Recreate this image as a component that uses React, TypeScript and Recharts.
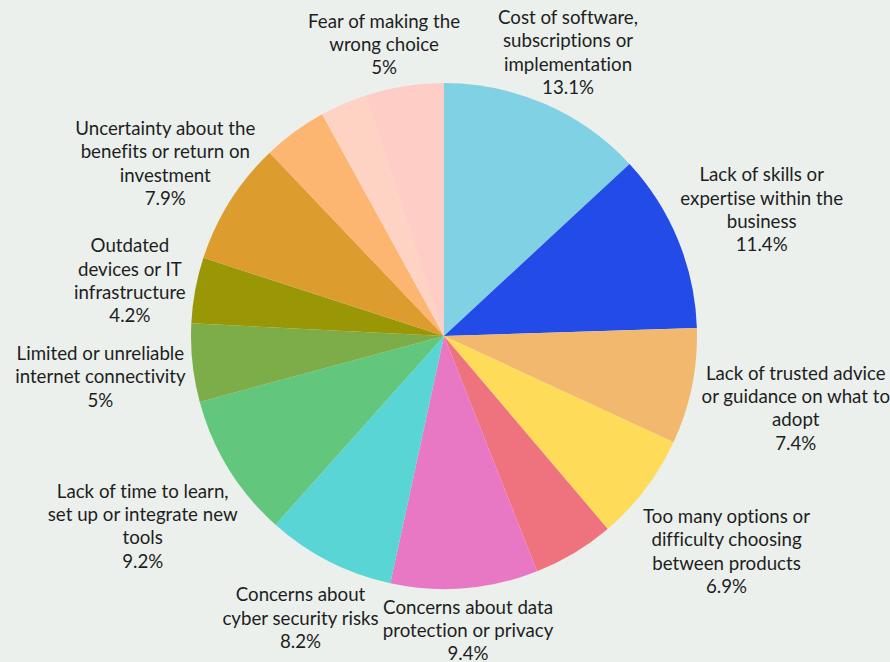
import React from "react";
import { PieChart, Pie, Cell } from "recharts";

const categories = [
  "Cost of software, subscriptions or implementation",
  "Lack of skills or expertise within the business",
  "Lack of trusted advice or guidance on what to adopt",
  "Too many options or difficulty choosing between products",
  "Other barrier",
  "Concerns about data protection or privacy",
  "Concerns about cyber security risks",
  "Lack of time to learn, set up or integrate new tools",
  "Limited or unreliable internet connectivity",
  "Outdated devices or IT infrastructure",
  "Uncertainty about the benefits or return on investment",
  "Other barrier (2)",
  "Other barrier (3)",
  "Fear of making the wrong choice",
];

const values = [13.1, 11.4, 7.4, 6.9, 5.2, 9.4, 8.2, 9.2, 5, 4.2, 7.9, 4.1, 3.0, 5];

const labelLines: string[][] = [
  ["Cost of software,", "subscriptions or", "implementation"],
  ["Lack of skills or", "expertise within the", "business"],
  ["Lack of trusted advice", "or guidance on what to", "adopt"],
  ["Too many options or", "difficulty choosing", "between products"],
  [],
  ["Concerns about data", "protection or privacy"],
  ["Concerns about", "cyber security risks"],
  ["Lack of time to learn,", "set up or integrate new", "tools"],
  ["Limited or unreliable", "internet connectivity"],
  ["Outdated", "devices or IT", "infrastructure"],
  ["Uncertainty about the", "benefits or return on", "investment"],
  [],
  [],
  ["Fear of making the", "wrong choice"],
];

const colors = [
  "#80d1e3",
  "#234be8",
  "#f2b86d",
  "#fedc5a",
  "#ef737e",
  "#e878c4",
  "#5ad5d5",
  "#62c77c",
  "#7cad48",
  "#9a9707",
  "#dc9c2e",
  "#fdb572",
  "#fed3c3",
  "#fecdc5",
];

// layout: distance of each label block centre from the pie centre, and angle nudges
const LABEL_DIST = [310, 342, 359, 355, 0, 295, 316, 356, 346, 319, 328, 0, 0, 298];
const LABEL_NUDGE = [0, -0.6, 0, 0, 0, 0, 0, 0.5, 0.6, 0.4, 0.4, 0, 0, 2.6];

const data = categories.map((name, i) => ({
  name,
  value: values[i],
}));

const RAD = Math.PI / 180;
const FONT_SIZE = 18.7;
const LINE_H = 23.3;

const renderLabel = (props: any) => {
  const { cx, cy, midAngle, index } = props;
  const lines = labelLines[index];
  if (!lines || lines.length === 0) return null;
  const all = [...lines, `${values[index]}%`];
  const h = all.length * LINE_H;
  const ang = (midAngle + LABEL_NUDGE[index]) * RAD;
  const d = LABEL_DIST[index];
  const bx = cx + d * Math.cos(-ang);
  const by = cy + d * Math.sin(-ang);
  const top = by - h / 2;
  return (
    <text
      key={`lbl-${index}`}
      textAnchor="middle"
      fill="#1e1e1e"
      fontSize={FONT_SIZE}
      fontFamily="Lato, sans-serif"
      style={{ fontVariantLigatures: "none", fontFeatureSettings: '"liga" 0, "clig" 0' }}
    >
      {all.map((l, i) => (
        <tspan key={i} x={bx} y={top + LINE_H * (i + 0.5)} dominantBaseline="central">
          {l}
        </tspan>
      ))}
    </text>
  );
};

export default function App() {
  return (
    <div style={{ width: 890, height: 662, background: "#ebf0ec" }}>
      <style>{`body{margin:0}`}</style>
      <PieChart width={890} height={662} margin={{ top: 0, right: 0, bottom: 0, left: 0 }}>
        <Pie
          data={data}
          dataKey="value"
          cx={444}
          cy={336}
          outerRadius={253}
          startAngle={90}
          endAngle={-270}
          stroke="none"
          label={renderLabel}
          labelLine={false}
          isAnimationActive={false}
        >
          {data.map((d, i) => (
            <Cell key={d.name} fill={colors[i]} />
          ))}
        </Pie>
      </PieChart>
    </div>
  );
}
